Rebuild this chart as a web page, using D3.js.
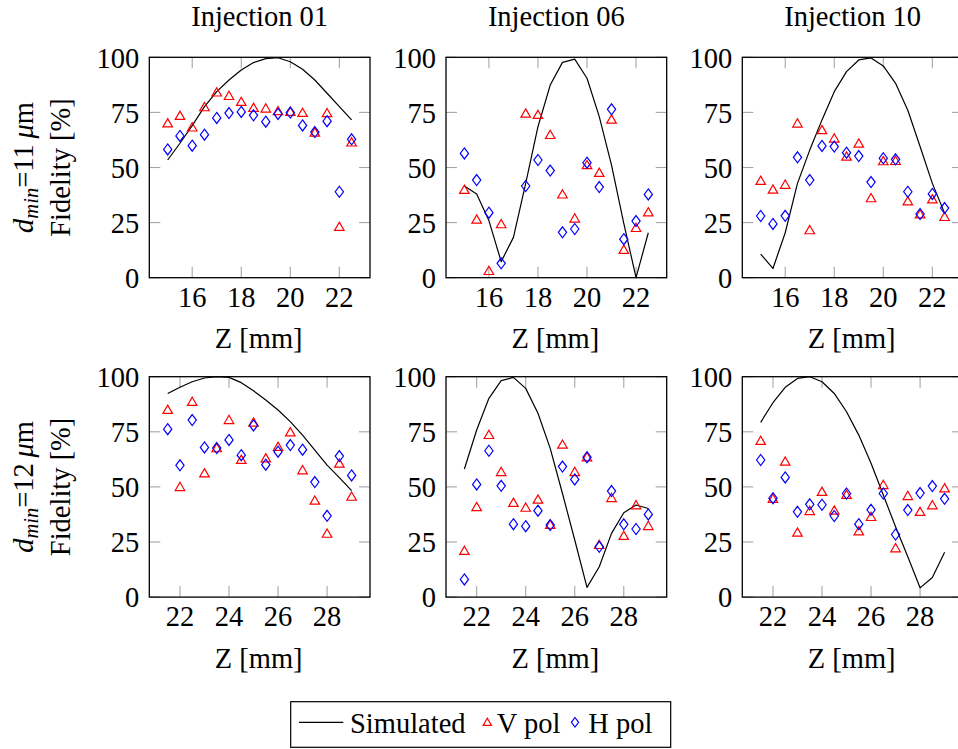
<!DOCTYPE html>
<html>
<head>
<meta charset="utf-8">
<script src="https://cdn.jsdelivr.net/npm/d3@7"></script>
<style>
  html, body { margin: 0; padding: 0; background: #fff; }
  svg { display: block; }
</style>
</head>
<body>
<svg id="chart" width="958" height="749"></svg>
<script>
// ---------------- data ----------------
const injections = ["Injection 01", "Injection 06", "Injection 10"];
const dmins = ["11", "12"];
const yTicks = [0, 25, 50, 75, 100];
const xTicksTop = [16, 18, 20, 22];
const xTicksBottom = [22, 24, 26, 28];
const xDomainTop = [14.25, 23.25];
const xDomainBottom = [20.75, 29.75];

const zTop = [15, 15.5, 16, 16.5, 17, 17.5, 18, 18.5, 19, 19.5, 20, 20.5, 21, 21.5, 22, 22.5];
const zBottom = [21.5, 22, 22.5, 23, 23.5, 24, 24.5, 25, 25.5, 26, 26.5, 27, 27.5, 28, 28.5, 29];

// d_min = 11 um (top row)
const sim01_11 = [53.4, 61, 69, 77.6, 84.4, 89.7, 94.2, 97.6, 99.4, 99.8, 98, 94.6, 89.7, 83.7, 77.6, 71.6];
const v01_11 = [69.7, 73.1, 67.8, 77, 83.7, 82.1, 79.4, 76.7, 76.4, 75.2, 74.9, 74.4, 65.5, 74.3, 22.7, 61];
const h01_11 = [58.2, 64.3, 59.9, 64.9, 72.5, 74.7, 75.2, 73.7, 70.8, 74.3, 74.9, 69.1, 66.1, 71, 39, 62.8];

const sim06_11 = [41.6, 38, 25.9, 7.3, 18.3, 42.8, 68.5, 87.4, 97.7, 99.2, 90.5, 73.1, 51.1, 24.7, 0, 20.4];
const v06_11 = [39.5, 26, 2.7, 23.9, null, 74.1, 73.5, 64.4, 37.4, 26.5, 50.7, 47.2, 71.4, 12.3, 22.2, 29.3];
const h06_11 = [56.4, 44.3, 29.5, 6.5, null, 41.6, 53.4, 48.6, 20.6, 22.1, 52.2, 41.1, 76.4, 17.5, 25.7, 37.8];

const sim10_11 = [10.7, 4.2, 20.4, 42.8, 57.9, 71.6, 84.4, 93.5, 98.8, 99.7, 96.1, 88.2, 76, 59.5, 42.8, 29.3];
const v10_11 = [43.6, 39.6, 41.8, 69.6, 21.2, 66.6, 62.8, 54.6, 60.5, 35.7, 52.5, 52.6, 34.3, 28.4, 35.2, 27.2];
const h10_11 = [28, 24.4, 28.1, 54.6, 44.3, 59.8, 59.5, 56.7, 55.2, 43.4, 54.2, 53.7, 39, 28.9, 38, 31.6];

// d_min = 12 um (bottom row)
const sim01_12 = [92.4, 95.2, 97.7, 99.4, 100, 99.7, 97.3, 93.6, 89.4, 84.9, 79.6, 73.5, 66.7, 59.9, 54.2, 48.3];
const v01_12 = [84.6, 49.6, 88.2, 55.8, 67.2, 80, 61.9, 78.8, 62.6, 67.8, 74.4, 57.2, 43.4, 28.4, 60.2, 45.2];
const h01_12 = [76.2, 59.8, 80.3, 67.9, 67.6, 71.3, 64.4, 77.9, 60.1, 66, 69, 66.9, 52.2, 36.9, 64, 55.2];

const sim06_12 = [58.1, 75.8, 90.2, 98.2, 99.7, 94.7, 83.4, 67.5, 47, 25.9, 4.4, 13.8, 28.9, 38.3, 41.8, 40.2];
const v06_12 = [20.6, 40.5, 73.2, 56.4, 42.4, 40.2, 43.9, 32.4, 68.8, 56.4, 63.1, 23.3, 44.6, 27.4, 41.3, 31.9];
const h06_12 = [8, 51.1, 66.4, 50.5, 33.1, 32.2, 39.2, 32.7, 59.2, 53.4, 63.5, 22.8, 48.1, 33, 30.9, 37.5];

const sim10_12 = [79.3, 88.2, 95.2, 99.2, 100, 97.7, 92.4, 84.1, 73.5, 60.7, 46.3, 31.9, 18.3, 4.2, 8.9, 20.3];
const v10_12 = [70.5, 44.2, 61.1, 28.9, 38.7, 47.4, 38.9, 46, 29.5, 36, 50.5, 21.8, 45.5, 38.3, 41.3, 49];
const h10_12 = [62.2, 44.9, 54.3, 38.7, 42.1, 41.9, 36.8, 47, 33.1, 39.6, 47, 28.4, 39.5, 47.2, 50.4, 44.6];

const legendLabels = ["Simulated", "V pol", "H pol"];

// ---------------- layout ----------------
const svg = d3.select("#chart");
const FAMILY = "'Liberation Serif', 'DejaVu Serif', serif";
const FONT = 28.5;
const panelW = 220.7, panelH = 220.4;
const colLeft = [149.3, 446, 742.3];
const rowTop = [57.3, 376.7];
const RED = "#ff0000", BLUE = "#0000ff";

const panels = [
  { row: 0, col: 0, z: zTop, sim: sim01_11, v: v01_11, h: h01_11 },
  { row: 0, col: 1, z: zTop, sim: sim06_11, v: v06_11, h: h06_11 },
  { row: 0, col: 2, z: zTop, sim: sim10_11, v: v10_11, h: h10_11 },
  { row: 1, col: 0, z: zBottom, sim: sim01_12, v: v01_12, h: h01_12 },
  { row: 1, col: 1, z: zBottom, sim: sim06_12, v: v06_12, h: h06_12 },
  { row: 1, col: 2, z: zBottom, sim: sim10_12, v: v10_12, h: h10_12 }
];

function txt(sel) {
  return sel.append("text").attr("font-family", FAMILY).attr("font-size", FONT).attr("fill", "#000")
    .style("font-family", FAMILY);
}
function triPath(r) {
  const c = 0.8660254 * r;
  return `M0,${-r}L${c},${r / 2}L${-c},${r / 2}Z`;
}
function diaPath(r) {
  const w = 0.75 * r;
  return `M0,${-r}L${w},0L0,${r}L${-w},0Z`;
}

panels.forEach((p, i) => {
  const x0 = colLeft[p.col], y0 = rowTop[p.row];
  const x = d3.scaleLinear().domain(p.row === 0 ? xDomainTop : xDomainBottom).range([x0, x0 + panelW]);
  const y = d3.scaleLinear().domain([0, 100]).range([y0 + panelH, y0]);
  const xt = p.row === 0 ? xTicksTop : xTicksBottom;
  const g = svg.append("g");

  const clipId = "clip" + i;
  svg.append("clipPath").attr("id", clipId).append("rect")
    .attr("x", x0).attr("y", y0 - 1).attr("width", panelW).attr("height", panelH + 2);

  // ticks (inside, on all four sides)
  const tl = 11;
  const tickG = g.append("g").attr("stroke", "#a6a6a6").attr("stroke-width", 1.1);
  xt.forEach(t => {
    tickG.append("line").attr("x1", x(t)).attr("x2", x(t)).attr("y1", y(0)).attr("y2", y(0) - tl);
    tickG.append("line").attr("x1", x(t)).attr("x2", x(t)).attr("y1", y(100)).attr("y2", y(100) + tl);
  });
  yTicks.forEach(t => {
    tickG.append("line").attr("x1", x0).attr("x2", x0 + tl).attr("y1", y(t)).attr("y2", y(t));
    tickG.append("line").attr("x1", x0 + panelW).attr("x2", x0 + panelW - tl).attr("y1", y(t)).attr("y2", y(t));
  });

  // tick labels
  xt.forEach(t => {
    txt(g).attr("x", x(t)).attr("y", y(0) + 29).attr("text-anchor", "middle").text(t);
  });
  yTicks.forEach(t => {
    txt(g).attr("x", x0 - 10).attr("y", y(t) + 10.3).attr("text-anchor", "end").text(t);
  });

  // x label
  txt(g).attr("x", x0 + panelW / 2 - 1).attr("y", y(0) + 70.5).attr("text-anchor", "middle").text("Z [mm]");

  // plots
  const pg = g.append("g").attr("clip-path", `url(#${clipId})`);
  const line = d3.line().x((d, k) => x(p.z[k])).y(d => y(d));
  pg.append("path").datum(p.sim).attr("d", line)
    .attr("fill", "none").attr("stroke", "#000").attr("stroke-width", 1.2).attr("stroke-linejoin", "round");

  const vPts = p.z.map((z, k) => ({ z, val: p.v[k] })).filter(d => d.val != null);
  const hPts = p.z.map((z, k) => ({ z, val: p.h[k] })).filter(d => d.val != null);
  pg.selectAll(null).data(vPts).enter().append("path")
    .attr("d", triPath(5.5))
    .attr("transform", d => `translate(${x(d.z)},${y(d.val)})`)
    .attr("fill", "none").attr("stroke", RED).attr("stroke-width", 1.2);
  pg.selectAll(null).data(hPts).enter().append("path")
    .attr("d", diaPath(5.5))
    .attr("transform", d => `translate(${x(d.z)},${y(d.val)})`)
    .attr("fill", "none").attr("stroke", BLUE).attr("stroke-width", 1.2);

  // frame
  g.append("rect").attr("x", x0).attr("y", y0).attr("width", panelW).attr("height", panelH)
    .attr("fill", "none").attr("stroke", "#000").attr("stroke-width", 1.3);

  // title
  if (p.row === 0) {
    txt(g).attr("x", x0 + panelW / 2).attr("y", 26).attr("text-anchor", "middle").text(injections[p.col]);
  }
});

// row y labels
dmins.forEach((dm, r) => {
  const cy = rowTop[r] + panelH / 2;
  const t1 = txt(svg).attr("text-anchor", "middle")
    .attr("transform", `translate(33,${cy}) rotate(-90)`);
  t1.append("tspan").attr("font-style", "italic").text("d");
  t1.append("tspan").attr("font-style", "italic").attr("font-size", FONT * 0.72).attr("dy", 5).text("min");
  t1.append("tspan").attr("dy", -5).text("=" + dm + "\u2009");
  t1.append("tspan").attr("font-style", "italic").text("\u03bc");
  t1.append("tspan").text("m");

  txt(svg).attr("text-anchor", "middle")
    .attr("transform", `translate(70,${cy}) rotate(-90)`)
    .text("Fidelity [%]");
});

// legend
const lg = svg.append("g");
lg.append("rect").attr("x", 290.7).attr("y", 701.7).attr("width", 380).attr("height", 45.6)
  .attr("fill", "#fff").attr("stroke", "#000").attr("stroke-width", 1.2);
lg.append("line").attr("x1", 299).attr("x2", 343.3).attr("y1", 722.3).attr("y2", 722.3)
  .attr("stroke", "#000").attr("stroke-width", 1.2);
txt(lg).attr("x", 350).attr("y", 732.7).text(legendLabels[0]);
lg.append("path").attr("d", triPath(4.8)).attr("transform", "translate(487.3,723)")
  .attr("fill", "none").attr("stroke", RED).attr("stroke-width", 1.2);
txt(lg).attr("x", 496.7).attr("y", 732.7).text(legendLabels[1]);
lg.append("path").attr("d", diaPath(4.8)).attr("transform", "translate(575,722.3)")
  .attr("fill", "none").attr("stroke", BLUE).attr("stroke-width", 1.2);
txt(lg).attr("x", 588.3).attr("y", 732.7).text(legendLabels[2]);
</script>
</body>
</html>
